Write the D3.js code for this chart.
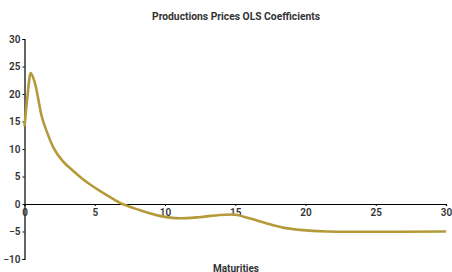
<!DOCTYPE html>
<html>
<head>
<meta charset="utf-8">
<script src="https://cdn.jsdelivr.net/npm/d3@7"></script>
<style>
  body { margin: 0; background: #fff; }
  text { font-family: Roboto, "Noto Sans", sans-serif; fill: #333; }
</style>
</head>
<body>
<div id="chart"></div>
<script>
// maturities (years) and OLS coefficient
var maturities = [0, 0.2, 0.44, 0.75, 1.22, 1.58, 2.05, 2.76, 3.47, 4.07, 4.7, 5.8, 6.8, 8.2, 9.9, 11.0, 12.4, 13.9, 14.8, 16.0, 17.2, 18.4, 19.6, 21.5, 23, 25, 30];
var coefficients = [14.1, 19.3, 23.8, 21.9, 16.0, 13.2, 10.3, 7.7, 6.0, 4.7, 3.5, 1.7, 0.2, -1.1, -2.3, -2.6, -2.4, -2.0, -1.9, -2.6, -3.5, -4.3, -4.7, -5.0, -5.05, -5.05, -5.0];
var xTicks = [0, 5, 10, 15, 20, 25, 30];
var yTicks = [-10, -5, 0, 5, 10, 15, 20, 25, 30];

var width = 452, height = 272;
var svg = d3.select("#chart").append("svg")
  .attr("width", width)
  .attr("height", height);

var x = d3.scaleLinear().domain([0, 30]).range([24.5, 446]);
var y = d3.scaleLinear().domain([-10, 30]).range([259, 39]);

svg.append("text")
  .attr("x", 236)
  .attr("y", 19.5)
  .attr("text-anchor", "middle")
  .attr("font-size", "10.3px")
  .attr("font-weight", "bold")
  .text("Productions Prices OLS Coefficients");

// y axis
var yAxis = svg.append("g")
  .attr("transform", "translate(" + x(0) + ",0)")
  .call(d3.axisLeft(y).tickValues(yTicks).tickSize(2).tickPadding(2));
// x axis sits on zero
var xAxis = svg.append("g")
  .attr("transform", "translate(0," + y(0) + ")")
  .call(d3.axisBottom(x).tickValues(xTicks).tickSize(2).tickPadding(3));

[xAxis, yAxis].forEach(function (a) {
  a.select(".domain").attr("stroke", "#000").attr("stroke-width", 1.2);
  a.selectAll(".tick line").attr("stroke", "#000");
  a.selectAll("text")
    .attr("font-size", "10px")
    .attr("font-weight", 600)
    .attr("fill", "#333");
});

var line = d3.line()
  .x(function (d, i) { return x(maturities[i]); })
  .y(function (d) { return y(d); })
  .curve(d3.curveMonotoneX);

svg.append("path")
  .datum(coefficients)
  .attr("d", line)
  .attr("fill", "none")
  .attr("stroke", "#b59a3a")
  .attr("stroke-width", 2.6);

svg.append("text")
  .attr("x", 236)
  .attr("y", 271.5)
  .attr("text-anchor", "middle")
  .attr("font-size", "10px")
  .attr("font-weight", "bold")
  .text("Maturities");
</script>
</body>
</html>
